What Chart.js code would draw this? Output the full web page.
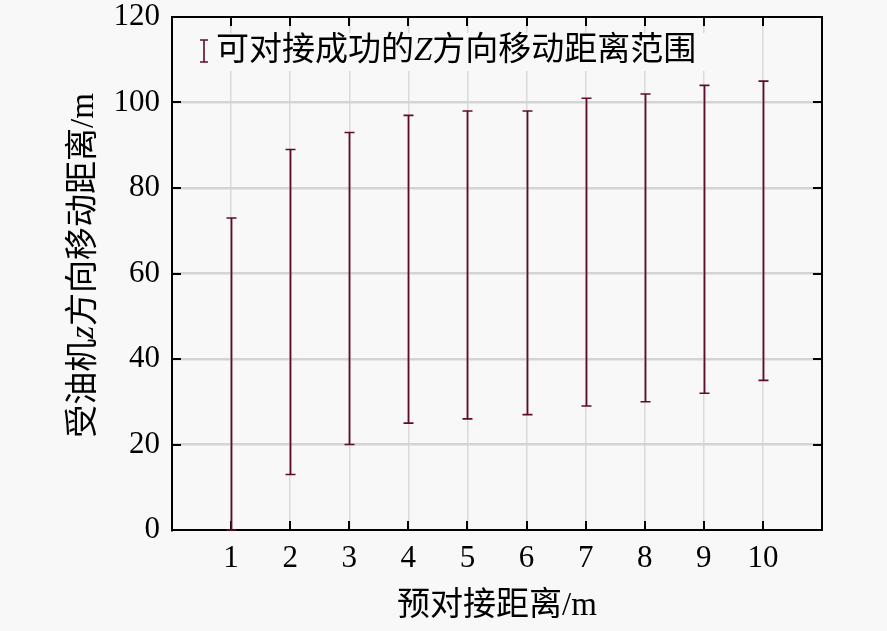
<!DOCTYPE html>
<html>
<head>
<meta charset="utf-8">
<script src="https://cdn.jsdelivr.net/npm/chart.js@4.4.1/dist/chart.umd.min.js"></script>
<style>
  html, body { margin: 0; padding: 0; background: #f8f8f8; }
  #wrap { width: 887px; height: 631px; }
</style>
</head>
<body>
<div id="wrap"><canvas id="rangeChart" width="887" height="631"></canvas></div>
<script>
// 预对接距离 (m) 与可对接成功的Z方向移动距离范围
const distances = [1, 2, 3, 4, 5, 6, 7, 8, 9, 10];
const lowValues = [0, 13, 20, 25, 26, 27, 29, 30, 32, 35];
const highValues = [73, 89, 93, 97, 98, 98, 101, 102, 104, 105];

const barColor = '#5e0c28';
const serif = '"Liberation Serif", "Noto Sans CJK SC", serif';

// 误差棒、边框、刻度线、图例和坐标轴标题
const rangePlugin = {
  id: 'rangePlugin',
  afterDatasetsDraw(chart) {
    const { ctx, chartArea, scales } = chart;
    const x = scales.x, y = scales.y;
    ctx.save();

    // 边框
    ctx.strokeStyle = '#000';
    ctx.lineWidth = 2;
    ctx.strokeRect(chartArea.left, chartArea.top, chartArea.right - chartArea.left, chartArea.bottom - chartArea.top);

    // 向内的刻度线
    for (let v = 20; v <= 100; v += 20) {
      const py = Math.round(y.getPixelForValue(v));
      ctx.beginPath();
      ctx.moveTo(chartArea.left, py); ctx.lineTo(chartArea.left + 9, py);
      ctx.moveTo(chartArea.right, py); ctx.lineTo(chartArea.right - 9, py);
      ctx.stroke();
    }
    distances.forEach(d => {
      const px = Math.round(x.getPixelForValue(d));
      ctx.beginPath();
      ctx.moveTo(px, chartArea.bottom); ctx.lineTo(px, chartArea.bottom - 9);
      ctx.moveTo(px, chartArea.top); ctx.lineTo(px, chartArea.top + 9);
      ctx.stroke();
    });

    // 误差棒
    ctx.strokeStyle = barColor;
    distances.forEach((d, i) => {
      const px = Math.round(x.getPixelForValue(d)) + 0.5;
      const yLow = y.getPixelForValue(lowValues[i]);
      const yHigh = y.getPixelForValue(highValues[i]);
      ctx.lineWidth = 1.8;
      ctx.beginPath();
      ctx.moveTo(px, yLow); ctx.lineTo(px, yHigh);
      ctx.stroke();
      ctx.lineWidth = 1.6;
      ctx.beginPath();
      ctx.moveTo(px - 5, yLow); ctx.lineTo(px + 5, yLow);
      ctx.moveTo(px - 5, yHigh); ctx.lineTo(px + 5, yHigh);
      ctx.stroke();
    });

    // 图例
    ctx.fillStyle = '#f8f8f8';
    ctx.fillRect(chartArea.left + 18, chartArea.top + 16, 520, 38);
    const lx = chartArea.left + 32, ly = chartArea.top + 34;
    ctx.strokeStyle = barColor;
    ctx.lineWidth = 1.6;
    ctx.beginPath();
    ctx.moveTo(lx, ly - 11); ctx.lineTo(lx, ly + 11);
    ctx.moveTo(lx - 4, ly - 11); ctx.lineTo(lx + 4, ly - 11);
    ctx.moveTo(lx - 4, ly + 11); ctx.lineTo(lx + 4, ly + 11);
    ctx.stroke();

    ctx.fillStyle = '#000';
    ctx.textBaseline = 'middle';
    ctx.textAlign = 'left';
    const drawParts = (parts, sx, sy) => {
      let cx = sx;
      parts.forEach(p => {
        ctx.font = (p.italic ? 'italic ' : '') + p.size + 'px ' + serif;
        ctx.fillText(p.text, cx, sy);
        cx += ctx.measureText(p.text).width;
      });
      return cx - sx;
    };
    const measureParts = parts => parts.reduce((w, p) => {
      ctx.font = (p.italic ? 'italic ' : '') + p.size + 'px ' + serif;
      return w + ctx.measureText(p.text).width;
    }, 0);

    drawParts([
      { text: '可对接成功的', size: 33 },
      { text: 'Z', size: 33, italic: true },
      { text: '方向移动距离范围', size: 33 }
    ], lx + 12, ly);

    // x 轴标题
    const xParts = [{ text: '预对接距离/m', size: 33 }];
    const xw = measureParts(xParts);
    drawParts(xParts, (chartArea.left + chartArea.right) / 2 - xw / 2, 606);

    // y 轴标题
    const yParts = [
      { text: '受油机', size: 33 },
      { text: 'z', size: 33, italic: true },
      { text: '方向移动距离/m', size: 33 }
    ];
    const yw = measureParts(yParts);
    ctx.translate(84, (chartArea.top + chartArea.bottom) / 2 - 8);
    ctx.rotate(-Math.PI / 2);
    drawParts(yParts, -yw / 2, 0);

    ctx.restore();
  }
};

new Chart(document.getElementById('rangeChart'), {
  type: 'scatter',
  data: {
    datasets: [{
      label: '可对接成功的Z方向移动距离范围',
      data: distances.map((d, i) => ({ x: d, y: highValues[i] })),
      pointRadius: 0,
      showLine: false
    }]
  },
  options: {
    responsive: false,
    animation: false,
    layout: { padding: { top: 17, right: 65, left: 0, bottom: 0 } },
    plugins: {
      legend: { display: false },
      tooltip: { enabled: false }
    },
    scales: {
      x: {
        type: 'linear',
        min: 0,
        max: 11,
        afterFit: scale => {
          scale.height = 101;
          scale.paddingLeft = 0;
          scale.paddingRight = 0;
        },
        ticks: {
          stepSize: 1,
          padding: 10,
          color: '#000',
          font: { family: serif, size: 31 },
          callback: v => (v === 0 || v === 11) ? '' : v
        },
        grid: {
          drawTicks: false,
          lineWidth: 1.5,
          color: c => (c.tick && (c.tick.value === 0 || c.tick.value === 11)) ? 'rgba(0,0,0,0)' : '#dadada'
        },
        border: { display: true, color: '#000', width: 2 }
      },
      y: {
        min: 0,
        max: 120,
        afterFit: scale => {
          scale.width = 172;
          scale.paddingTop = 0;
          scale.paddingBottom = 0;
        },
        ticks: {
          stepSize: 20,
          padding: 12,
          color: '#000',
          font: { family: serif, size: 31 }
        },
        grid: {
          drawTicks: false,
          lineWidth: 2.5,
          color: c => (c.tick && (c.tick.value === 0 || c.tick.value === 120)) ? 'rgba(0,0,0,0)' : '#d4d4d4'
        },
        border: { display: true, color: '#000', width: 2 }
      }
    }
  },
  plugins: [rangePlugin]
});
</script>
</body>
</html>
